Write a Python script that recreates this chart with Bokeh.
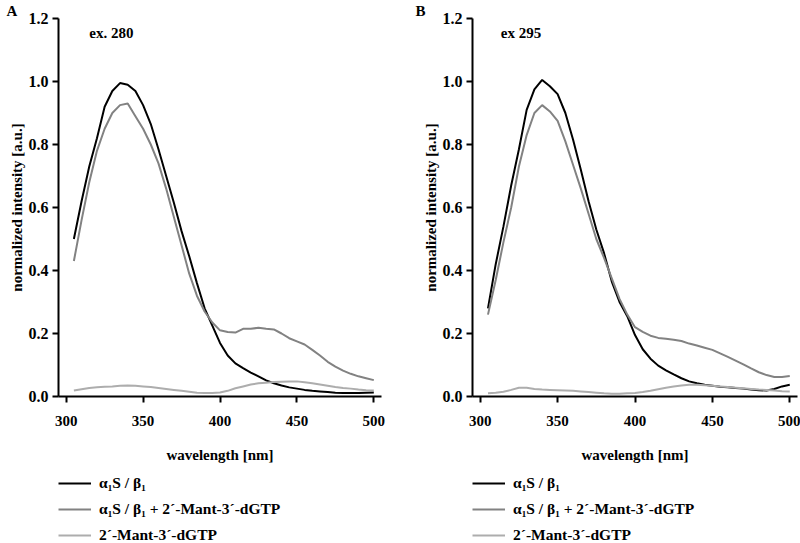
from bokeh.plotting import figure
from bokeh.models import Range1d, FixedTicker, PrintfTickFormatter, Legend, LegendItem, Label
from bokeh.layouts import row, column
from bokeh.embed import file_html
from bokeh.resources import INLINE

# ---------------- data ----------------
wavelength = [305, 310, 315, 320, 325, 330, 335, 340, 345, 350,
              355, 360, 365, 370, 375, 380, 385, 390, 395, 400,
              405, 410, 415, 420, 425, 430, 435, 440, 445, 450,
              455, 460, 465, 470, 475, 480, 485, 490, 495, 500]

# Panel A (ex. 280)
a_a1s_b1 = [0.50, 0.62, 0.73, 0.82, 0.92, 0.97, 0.995, 0.99, 0.97, 0.925,
            0.865, 0.785, 0.70, 0.615, 0.525, 0.445, 0.36, 0.28, 0.225, 0.17,
            0.13, 0.105, 0.09, 0.076, 0.064, 0.051, 0.042, 0.035, 0.029, 0.025,
            0.021, 0.018, 0.016, 0.014, 0.012, 0.011, 0.011, 0.011, 0.012, 0.013]
a_a1s_b1_mant = [0.43, 0.56, 0.68, 0.78, 0.85, 0.90, 0.925, 0.93, 0.89, 0.85,
                 0.80, 0.74, 0.66, 0.57, 0.48, 0.39, 0.32, 0.27, 0.235, 0.21,
                 0.205, 0.203, 0.215, 0.215, 0.218, 0.215, 0.213, 0.20, 0.185, 0.175,
                 0.165, 0.148, 0.13, 0.11, 0.095, 0.082, 0.072, 0.064, 0.058, 0.052]
a_mant = [0.019, 0.023, 0.027, 0.029, 0.031, 0.032, 0.034, 0.035, 0.034, 0.032,
          0.030, 0.027, 0.024, 0.021, 0.018, 0.015, 0.012, 0.011, 0.011, 0.013,
          0.018, 0.026, 0.032, 0.038, 0.042, 0.044, 0.046, 0.047, 0.048, 0.048,
          0.045, 0.042, 0.038, 0.034, 0.030, 0.027, 0.025, 0.022, 0.020, 0.019]

# Panel B (ex 295)
b_a1s_b1 = [0.28, 0.42, 0.54, 0.67, 0.785, 0.91, 0.975, 1.005, 0.985, 0.96,
            0.90, 0.815, 0.72, 0.62, 0.53, 0.455, 0.365, 0.30, 0.255, 0.195,
            0.15, 0.12, 0.098, 0.083, 0.07, 0.058, 0.048, 0.042, 0.037, 0.034,
            0.031, 0.029, 0.027, 0.025, 0.022, 0.020, 0.019, 0.024, 0.032, 0.037]
b_a1s_b1_mant = [0.26, 0.37, 0.49, 0.60, 0.73, 0.83, 0.90, 0.925, 0.905, 0.875,
                 0.81, 0.735, 0.66, 0.58, 0.50, 0.44, 0.375, 0.31, 0.26, 0.22,
                 0.205, 0.193, 0.186, 0.183, 0.18, 0.176, 0.168, 0.162, 0.155, 0.148,
                 0.137, 0.126, 0.114, 0.102, 0.089, 0.077, 0.068, 0.062, 0.062, 0.065]
b_mant = [0.010, 0.012, 0.015, 0.021, 0.028, 0.028, 0.024, 0.022, 0.021, 0.020,
          0.019, 0.018, 0.016, 0.014, 0.012, 0.010, 0.009, 0.009, 0.010, 0.011,
          0.014, 0.018, 0.023, 0.028, 0.032, 0.035, 0.037, 0.037, 0.036, 0.034,
          0.032, 0.030, 0.028, 0.026, 0.024, 0.022, 0.021, 0.019, 0.017, 0.016]

x_ticks = [300, 350, 400, 450, 500]
y_ticks = [0.0, 0.2, 0.4, 0.6, 0.8, 1.0, 1.2]
series_labels = ["α₁S / β₁", "α₁S / β₁ + 2´-Mant-3´-dGTP", "2´-Mant-3´-dGTP"]
series_colors = ["#000000", "#828282", "#adadad"]

FONT = "Liberation Serif"


def make_panel(black, combo, mant, letter, ex_text, ex_x, left, right, letter_offset):
    p = figure(width=400, height=470, output_backend="svg",
               toolbar_location=None,
               x_range=Range1d(295, 505), y_range=Range1d(0, 1.2),
               min_border_left=left, min_border_right=right,
               min_border_top=0, min_border_bottom=74)
    p.outline_line_color = None
    p.grid.visible = False
    p.background_fill_color = "white"
    p.border_fill_color = "white"

    p.title.text = letter
    p.title.align = "left"
    p.title.offset = letter_offset
    p.title.standoff = 0
    p.title.text_font = FONT
    p.title.text_font_style = "bold"
    p.title.text_font_size = "15px"
    p.title.text_color = "black"

    for ax in (p.xaxis[0], p.yaxis[0]):
        ax.axis_line_width = 2
        ax.axis_line_color = "black"
        ax.major_tick_line_width = 2
        ax.major_tick_line_color = "black"
        ax.major_tick_out = 6
        ax.major_tick_in = 0
        ax.minor_tick_line_color = None
        ax.major_label_text_font = FONT
        ax.major_label_text_font_style = "bold"
        ax.major_label_text_color = "black"
        ax.axis_label_text_font = FONT
        ax.axis_label_text_font_style = "bold"
        ax.axis_label_text_font_size = "15px"
        ax.axis_label_text_color = "black"

    p.xaxis.major_label_text_font_size = "15px"
    p.yaxis.major_label_text_font_size = "16px"
    p.xaxis.ticker = FixedTicker(ticks=x_ticks)
    p.yaxis.ticker = FixedTicker(ticks=y_ticks)
    p.yaxis.formatter = PrintfTickFormatter(format="%.1f")
    p.xaxis.axis_label = "wavelength [nm]"
    p.yaxis.axis_label = "normalized intensity [a.u.]"
    p.xaxis.major_label_standoff = 13
    p.xaxis.axis_label_standoff = 18
    p.yaxis.major_label_standoff = 4
    p.yaxis.axis_label_standoff = 1

    p.line(wavelength, black, line_color=series_colors[0], line_width=2)
    p.line(wavelength, combo, line_color=series_colors[1], line_width=2)
    p.line(wavelength, mant, line_color=series_colors[2], line_width=2)

    p.add_layout(Label(x=ex_x, y=1.155, text=ex_text, text_font=FONT,
                       text_font_style="bold", text_font_size="15px",
                       text_baseline="middle", text_color="black"))
    return p


def make_legend(black, combo, mant, left):
    q = figure(width=400, height=73, output_backend="svg", toolbar_location=None,
               x_range=Range1d(295, 505), y_range=Range1d(0, 1.2),
               x_axis_location=None, y_axis_location=None,
               min_border_left=left, min_border_right=0,
               min_border_top=3, min_border_bottom=0)
    q.outline_line_color = None
    q.grid.visible = False
    q.title.visible = False
    # legend entries use hidden copies of the series (same styles)
    r1 = q.line(wavelength, black, line_color=series_colors[0], line_width=2, visible=False)
    r2 = q.line(wavelength, combo, line_color=series_colors[1], line_width=2, visible=False)
    r3 = q.line(wavelength, mant, line_color=series_colors[2], line_width=2, visible=False)
    legend = Legend(items=[LegendItem(label=series_labels[0], renderers=[r1]),
                           LegendItem(label=series_labels[1], renderers=[r2]),
                           LegendItem(label=series_labels[2], renderers=[r3])],
                    location="top_left", orientation="vertical",
                    border_line_color=None, background_fill_alpha=0,
                    inactive_fill_alpha=0,
                    label_text_font=FONT, label_text_font_style="bold",
                    label_text_font_size="15.5px", label_text_color="black",
                    glyph_width=33, glyph_height=20, label_height=20,
                    label_standoff=8, spacing=6, padding=0, margin=0)
    q.add_layout(legend, "center")
    return q


pA = make_panel(a_a1s_b1, a_a1s_b1_mant, a_mant, "A", "ex. 280", 315.0, 54, 19, -52)
pB = make_panel(b_a1s_b1, b_a1s_b1_mant, b_mant, "B", "ex 295", 313.3, 70, 3, -57)
lA = make_legend(a_a1s_b1, a_a1s_b1_mant, a_mant, 58)
lB = make_legend(b_a1s_b1, b_a1s_b1_mant, b_mant, 72)

layout = row(column(pA, lA), column(pB, lB))
open("out.html", "w").write(file_html(layout, INLINE))
